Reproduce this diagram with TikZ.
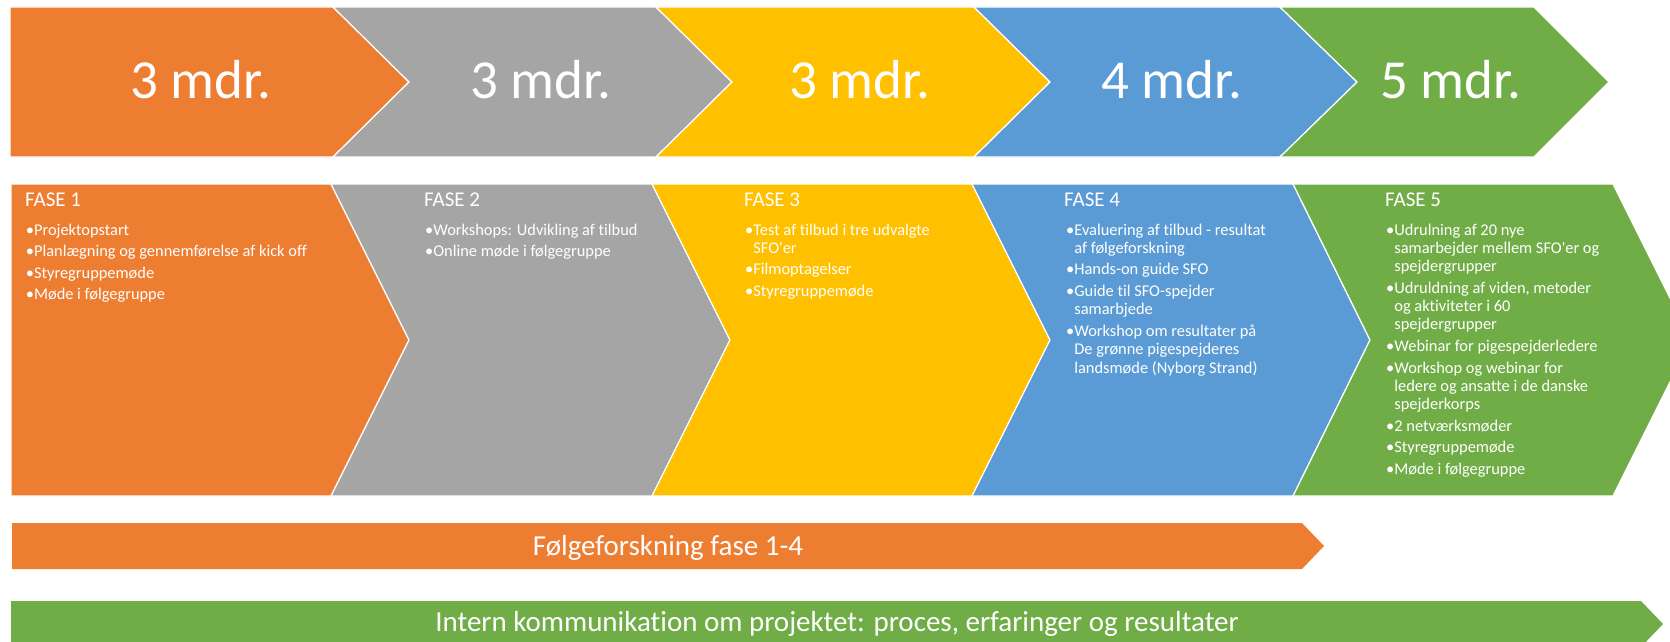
\documentclass[tikz,border=0pt]{standalone}
\usepackage{fontspec}
\setmainfont{Carlito}[Ligatures={TeXOff,NoCommon}]
\definecolor{cOr}{HTML}{ED7D31}
\definecolor{cGr}{HTML}{A5A5A5}
\definecolor{cYe}{HTML}{FFC000}
\definecolor{cBl}{HTML}{5B9BD5}
\definecolor{cGn}{HTML}{70AD47}
\newcommand\bodyfnt{\fontsize{16.4}{18.3}\selectfont}
\newcommand\cont{\phantom{•}}
\newcommand\gap{\\[3.3pt]}
\begin{document}
\begin{tikzpicture}[x=1pt,y=-1pt,
  chev/.style={draw=white, line width=1.2pt, line join=miter},
  toptxt/.style={text=white, inner sep=0pt, anchor=base, font=\fontsize{55}{66}\selectfont},
  head/.style={text=white, inner sep=0pt, anchor=base west, font=\fontsize{21}{25}\selectfont},
  body/.style={text=white, inner sep=0pt, anchor=base west},
  bartxt/.style={text=white, inner sep=0pt, anchor=base, font=\fontsize{29}{35}\selectfont}]
\useasboundingbox (0,0) rectangle (1670,642);
\clip (0,0) rectangle (1670,642);
% top row
\path[chev, fill=cOr] (10,7) -- (333,7) -- (409,82) -- (333,157) -- (10,157) -- cycle;
\path[chev, fill=cGr] (333,7) -- (656,7) -- (732,82) -- (656,157) -- (333,157) -- (409,82) -- cycle;
\path[chev, fill=cYe] (656,7) -- (974,7) -- (1050,82) -- (974,157) -- (656,157) -- (732,82) -- cycle;
\path[chev, fill=cBl] (974,7) -- (1280,7) -- (1357,82) -- (1280,157) -- (974,157) -- (1050,82) -- cycle;
\path[chev, fill=cGn] (1280,7) -- (1534,7) -- (1609,82) -- (1534,157) -- (1280,157) -- (1357,82) -- cycle;
\node[toptxt] (m1) at (201,99) {3 mdr.};
\node[toptxt] (m2) at (541,99) {3 mdr.};
\node[toptxt] (m3) at (860,99) {3 mdr.};
\node[toptxt] (m4) at (1172,99) {4 mdr.};
\node[toptxt] (m5) at (1451,99) {5 mdr.};
% second row
\path[chev, fill=cOr] (11,184) -- (331,184) -- (409,340) -- (331,496) -- (11,496) -- cycle;
\path[chev, fill=cGr] (331,184) -- (652,184) -- (730,340) -- (652,496) -- (331,496) -- (409,340) -- cycle;
\path[chev, fill=cYe] (652,184) -- (972,184) -- (1050,340) -- (972,496) -- (652,496) -- (730,340) -- cycle;
\path[chev, fill=cBl] (972,184) -- (1293,184) -- (1370,340) -- (1293,496) -- (972,496) -- (1050,340) -- cycle;
\path[chev, fill=cGn] (1293,184) -- (1613,184) -- (1691,340) -- (1613,496) -- (1293,496) -- (1370,340) -- cycle;
\node[head] (h1) at (25,206) {FASE 1};
\node[head] (h2) at (424,206) {FASE 2};
\node[head] (h3) at (744,206) {FASE 3};
\node[head] (h4) at (1064,206) {FASE 4};
\node[head] (h5) at (1385,206) {FASE 5};
\node[body] (b1) at (25.7,235) {\parbox[t]{380pt}{\bodyfnt
  •Projektopstart\gap
  •Planlægning og gennemførelse af kick off\gap
  •Styregruppemøde\gap
  •Møde i følgegruppe}};
\node[body] (b2) at (425,235) {\parbox[t]{300pt}{\bodyfnt
  •Workshops: Udvikling af tilbud\gap
  •Online møde i følgegruppe}};
\node[body] (b3) at (745,235) {\parbox[t]{300pt}{\bodyfnt
  •Test af tilbud i tre udvalgte\\
  \cont SFO'er\gap
  •Filmoptagelser\gap
  •Styregruppemøde}};
\node[body] (b4) at (1066,235) {\parbox[t]{300pt}{\bodyfnt
  •Evaluering af tilbud - resultat\\
  \cont af følgeforskning\gap
  •Hands-on guide SFO\gap
  •Guide til SFO-spejder\\
  \cont samarbjede\gap
  •Workshop om resultater på\\
  \cont De grønne pigespejderes\\
  \cont landsmøde (Nyborg Strand)}};
\node[body] (b5) at (1386,235) {\parbox[t]{300pt}{\bodyfnt
  •Udrulning af 20 nye\\
  \cont samarbejder mellem SFO'er og\\
  \cont spejdergrupper\gap
  •Udruldning af viden, metoder\\
  \cont og aktiviteter i 60\\
  \cont spejdergrupper\gap
  •Webinar for pigespejderledere\gap
  •Workshop og webinar for\\
  \cont ledere og ansatte i de danske\\
  \cont spejderkorps\gap
  •2 netværksmøder\gap
  •Styregruppemøde\gap
  •Møde i følgegruppe}};
% bottom bars
\path[fill=cOr] (12,523) -- (1302,523) -- (1324,546) -- (1302,569) -- (12,569) -- cycle;
\path[fill=cGn] (11,601) -- (1641,601) -- (1663,624) -- (1641,647) -- (11,647) -- cycle;
\node[bartxt] (fb) at (668,555) {Følgeforskning fase 1-4};
\node[bartxt] (ib) at (837,631) {Intern kommunikation om projektet: proces, erfaringer og resultater};
\end{tikzpicture}
\end{document}
